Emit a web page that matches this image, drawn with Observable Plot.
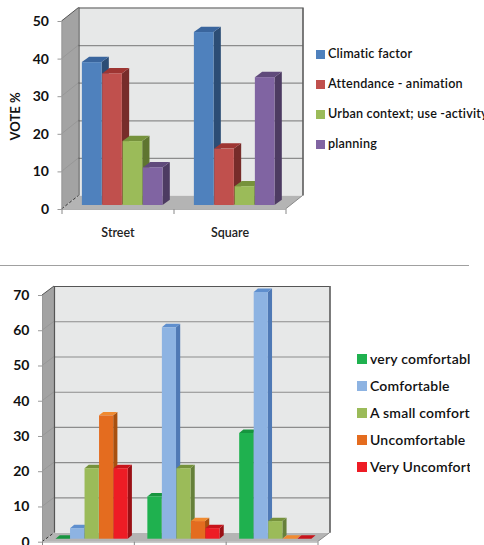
<!DOCTYPE html>
<html>
<head>
<meta charset="utf-8">
<script src="https://cdn.jsdelivr.net/npm/d3@7"></script>
<script src="https://cdn.jsdelivr.net/npm/@observablehq/plot@0.6"></script>
<style>
  html, body { margin: 0; padding: 0; background: #fff; }
  #page { position: relative; width: 484px; height: 545px; overflow: hidden; font-family: Lato, "Open Sans", sans-serif; color: #111; }
  #page svg { position: absolute; overflow: hidden; background: none; }
  .rule { position: absolute; left: 0; top: 265px; width: 469px; height: 1px; background: #a0a0a0; }
  .legend { position: absolute; overflow: hidden; white-space: nowrap; font-weight: 600; letter-spacing: 0.2px; }
  .legend i { position: absolute; left: 0; display: block; }
  .legend span { position: absolute; }
</style>
</head>
<body>
<div id="page"><div class="rule"></div></div>
<script>
// Upper chart: reasons for voting, by kind of place
const placeGroups = ["Street", "Square"];
const reasonNames = ["Climatic factor", "Attendance - animation", "Urban context; use -activity", "planning"];
const climatic = [38, 46];
const attendance = [35, 15];
const urbanContext = [17, 5];
const planning = [10, 34];
const reasonColors = [
  ["#4f81bd", "#3a659d", "#2c4d75"],
  ["#c0504d", "#9e3532", "#772c2a"],
  ["#9bbb59", "#76923c", "#5f7530"],
  ["#8064a2", "#604a7b", "#4d3b62"]
];

// Lower chart: comfort ratings across three unlabelled groups
const comfortGroups = ["A", "B", "C"];
const comfortNames = ["very comfortable", "Comfortable", "A small comfortable", "Uncomfortable", "Very Uncomfortable"];
const veryComfortable = [0, 12, 30];
const comfortable = [3, 60, 70];
const smallComfortable = [20, 20, 5];
const uncomfortable = [35, 5, 0];
const veryUncomfortable = [20, 3, 0];
const comfortColors = [
  ["#1fb14f", "#17953f", "#14803a"],
  ["#8db3e2", "#5f8fce", "#4f79b5"],
  ["#9bbb59", "#76923c", "#66803a"],
  ["#e46c1f", "#f08a30", "#a8500f"],
  ["#ee1c25", "#c8141b", "#9a1015"]
];

const page = document.getElementById("page");

// Filled polygon whose corners are [x, y] in data units plus an optional pixel shift
function polygon(g, scales, corners, fill) {
  g.append("polygon")
    .attr("points", corners.map(([x, y, px = 0, py = 0]) => [scales.x(x) + px, scales.y(y) + py].join(",")).join(" "))
    .attr("fill", fill);
}

function chart3d({groups, series, colors, yMax, left, right, top, bottom, svgTop, svgHeight, wall, barOffset, barDepth, barSpan, barWidth, barGap, labels, yLabel, fontSize, tickFont}) {
  const rows = [];
  groups.forEach((group, g) => series.forEach((values, s) => {
    const start = g + 0.5 - barSpan / 2;
    rows.push({
      group, value: values[g], s,
      x1: start + s * barWidth + barGap / 2,
      x2: start + (s + 1) * barWidth - barGap / 2
    });
  }));
  const n = groups.length;
  const yTicks = d3.range(0, yMax + 1, 10);
  const width = right + wall.x + 6;

  // Side wall, floor and back wall of the box, drawn behind the data
  const room = (index, scales) => {
    const g = d3.create("svg:g");
    polygon(g, scales, [[0, 0], [0, yMax], [0, yMax, wall.x, wall.y], [0, 0, wall.x, wall.y]], "#a3a3a3");
    polygon(g, scales, [[0, 0], [n, 0], [n, 0, wall.x, wall.y], [0, 0, wall.x, wall.y]], "#b4b4b4");
    polygon(g, scales, [[0, 0, wall.x, wall.y], [0, yMax, wall.x, wall.y], [n, yMax, wall.x, wall.y], [n, 0, wall.x, wall.y]], "#e7e8e8");
    for (const v of yTicks.slice(1)) {
      g.append("line")
        .attr("x1", scales.x(0)).attr("y1", scales.y(v))
        .attr("x2", scales.x(0) + wall.x).attr("y2", scales.y(v) + wall.y)
        .attr("stroke", v === yMax ? "#555" : "#979797");
    }
    g.append("line")
      .attr("x1", scales.x(n)).attr("y1", scales.y(0))
      .attr("x2", scales.x(n) + wall.x).attr("y2", scales.y(0) + wall.y)
      .attr("stroke", "#8a8a8a");
    g.append("line")
      .attr("x1", scales.x(0)).attr("y1", scales.y(0))
      .attr("x2", scales.x(0) + wall.x).attr("y2", scales.y(0) + wall.y)
      .attr("stroke", "#333").attr("stroke-dasharray", "3,2");
    return g.node();
  };

  // Right side and top of each bar; the front faces are painted over them afterwards
  const extrusion = (index, scales) => {
    const g = d3.create("svg:g");
    const at = (x, v, far) => [x, v, barOffset.x + (far ? barDepth.x : 0), barOffset.y + (far ? barDepth.y : 0)];
    for (const r of rows) {
      polygon(g, scales, [at(r.x2, 0), at(r.x2, r.value), at(r.x2, r.value, true), at(r.x2, 0, true)], colors[r.s][2]);
      polygon(g, scales, [at(r.x1, r.value), at(r.x2, r.value), at(r.x2, r.value, true), at(r.x1, r.value, true)], colors[r.s][1]);
    }
    return g.node();
  };

  const svg = Plot.plot({
    width,
    height: svgHeight,
    marginLeft: left,
    marginRight: width - right,
    marginTop: top,
    marginBottom: svgHeight - bottom,
    style: {fontFamily: "Lato, sans-serif", fontSize: tickFont + "px", fontWeight: 700, color: "#111", background: "none"},
    x: {type: "linear", domain: [0, n], axis: null},
    y: {type: "linear", domain: [0, yMax], axis: null},
    marks: [
      room,
      Plot.ruleY(yTicks.slice(1, -1), {dx: wall.x, dy: wall.y, x1: 0, x2: n, stroke: "#8c8c8c", strokeWidth: 1.2}),
      Plot.ruleY([yMax], {dx: wall.x, dy: wall.y, x1: 0, x2: n, stroke: "#555", strokeWidth: 1.2}),
      Plot.ruleX([0], {dx: wall.x, dy: wall.y, y1: 0, y2: yMax, stroke: "#555", strokeWidth: 1.2}),
      Plot.ruleX([n], {dx: wall.x, dy: wall.y, y1: 0, y2: yMax, stroke: "#444", strokeWidth: 1.4}),
      Plot.ruleX([0], {y1: 0, y2: yMax, stroke: "#999", strokeWidth: 1}),
      Plot.ruleY([0], {x1: 0, x2: n, stroke: "#b0b0b0", strokeWidth: 1}),
      extrusion,
      Plot.rectY(rows, {
        x1: "x1", x2: "x2", y1: 0, y2: "value",
        fill: d => colors[d.s][0],
        dx: barOffset.x, dy: barOffset.y
      }),
      Plot.axisY({ticks: yTicks, tickSize: 4, tickPadding: 9, label: null, stroke: "#999"}),
      Plot.axisX({ticks: d3.range(n + 1), tickSize: 5, tickFormat: () => "", label: null, stroke: "#888"}),
      labels ? Plot.text(groups, {x: (d, i) => i + 0.5, y: () => 0, text: d => d, dy: 23, fontSize: fontSize, fontWeight: 600, fill: "#222"}) : null,
      yLabel ? Plot.text([yLabel], {x: () => 0, y: () => yMax * 0.495, text: d => d, rotate: -90, dx: -46, fontSize: fontSize + 0.5, fontWeight: 700, fill: "#111"}) : null
    ]
  });
  svg.style.top = svgTop + "px";
  svg.style.left = "0px";
  page.appendChild(svg);
}

function legend({names, colors, x, width, textX, ys, box, fontSize}) {
  const el = d3.select(page).append("div").attr("class", "legend")
    .style("left", x + "px").style("top", "0").style("width", width + "px").style("height", "545px")
    .style("font-size", fontSize + "px");
  names.forEach((name, i) => {
    el.append("i").style("top", (ys[i] - box / 2) + "px").style("width", box + "px").style("height", box + "px").style("background", colors[i][0]);
    el.append("span").style("left", textX + "px").style("top", (ys[i] - fontSize * 0.62) + "px").text(name);
  });
}

chart3d({
  groups: placeGroups,
  series: [climatic, attendance, urbanContext, planning],
  colors: reasonColors,
  yMax: 50, left: 61.5, right: 285.5, top: 21, bottom: 209, svgTop: 0, svgHeight: 250,
  wall: {x: 17, y: -13.5},
  barOffset: {x: 4.7, y: -4},
  barDepth: {x: 7.3, y: -5.3},
  barSpan: 0.726, barWidth: 0.1815, barGap: 0.006,
  labels: true, yLabel: "VOTE %", fontSize: 12.5, tickFont: 14
});

chart3d({
  groups: comfortGroups,
  series: [veryComfortable, comfortable, smallComfortable, uncomfortable, veryUncomfortable],
  colors: comfortColors,
  yMax: 70, left: 42, right: 317.5, top: 35, bottom: 281.7, svgTop: 260, svgHeight: 285,
  wall: {x: 12, y: -9},
  barOffset: {x: 3.7, y: -3},
  barDepth: {x: 4.2, y: -3.4},
  barSpan: 0.79, barWidth: 0.158, barGap: 0.004,
  labels: false, yLabel: null, fontSize: 13, tickFont: 14
});

legend({
  names: reasonNames, colors: reasonColors, x: 316, width: 168, textX: 12, box: 9,
  ys: [54, 84, 114, 144], fontSize: 12.6
});
legend({
  names: comfortNames, colors: comfortColors, x: 357, width: 113, textX: 13, box: 10,
  ys: [359, 386, 412.7, 439.7, 466.7], fontSize: 14
});
</script>
</body>
</html>
